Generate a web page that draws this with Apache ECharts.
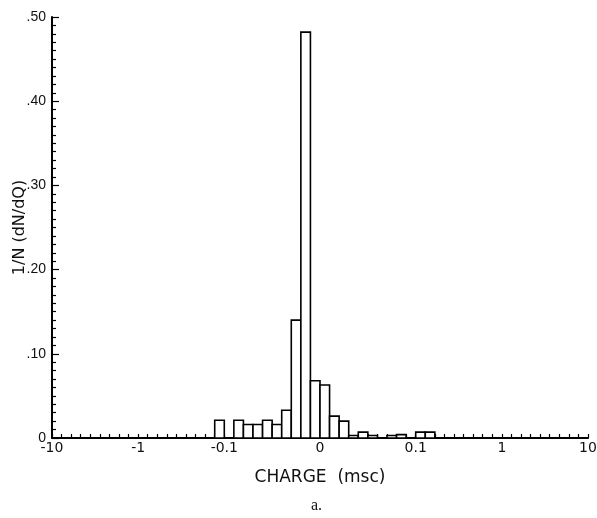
<!DOCTYPE html>
<html><head><meta charset="utf-8">
<script src="https://cdn.jsdelivr.net/npm/echarts@6/dist/echarts.min.js"></script>
<style>html,body{margin:0;padding:0;background:#fff}#c{width:597px;height:518px}</style>
</head><body><div id="c"></div>
<script>
// Histogram bins (charge, msc) and normalized frequency 1/N dN/dQ
const binLo = [-0.2, -0.1, -0.09, -0.08, -0.07, -0.06, -0.05, -0.04, -0.03, -0.02, -0.01, 0.0, 0.01, 0.02, 0.03, 0.04, 0.05, 0.06, 0.07, 0.08, 0.09, 0.1, 0.2];
const binHi = [-0.1, -0.09, -0.08, -0.07, -0.06, -0.05, -0.04, -0.03, -0.02, -0.01, 0.0, 0.01, 0.02, 0.03, 0.04, 0.05, 0.06, 0.07, 0.08, 0.09, 0.1, 0.2, 0.3];
const freq  = [0.021, 0, 0.021, 0.016, 0.016, 0.021, 0.016, 0.033, 0.140, 0.482, 0.068, 0.063, 0.026, 0.020, 0.003, 0.007, 0.003, 0, 0.003, 0.004, 0, 0.007, 0.007];
const xTickValues = [-10, -1, -0.1, 0, 0.1, 1, 10];
const xTickLabels = ['-10', '-1', '-0.1', '0', '0.1', '1', '10'];
const yTickLabels = ['0', '.10', '.20', '.30', '.40', '.50'];

// piecewise axis transform: linear |q|<=0.1 (bins of 0.01), then decades split into 9 equal bins
function toU(q) {
  const a = Math.abs(q), s = q < 0 ? -1 : 1;
  let u;
  if (a <= 0.1) u = a / 0.01;
  else if (a <= 1) u = 10 + (a - 0.1) / 0.1;
  else u = 19 + (a - 1) / 1;
  return s * u;
}
const xTickU = xTickValues.map(toU);
const data = binLo.map((q, i) => [toU(q), toU(binHi[i]), freq[i]]);

const FONT = 'DejaVu Sans';
const chart = echarts.init(document.getElementById('c'), null, {renderer: 'canvas'});
chart.setOption({
  animation: false,
  backgroundColor: '#fff',
  grid: {left: 52, right: 9, top: 17, bottom: 80, containLabel: false, outerBoundsMode: 'none'},
  xAxis: {
    type: 'value', min: -28, max: 28, interval: 1,
    name: 'CHARGE  (msc)', nameLocation: 'middle', nameGap: 31, nameMoveOverlap: false,
    nameTextStyle: {fontFamily: FONT, fontSize: 17, color: '#111'},
    axisLine: {onZero: false, lineStyle: {color: '#000', width: 2}},
    axisTick: {inside: true, length: 4, lineStyle: {color: '#000', width: 1.2}},
    splitLine: {show: false},
    axisLabel: {
      margin: 3, fontFamily: FONT, fontSize: 14, color: '#111',
      formatter: function (v) {
        for (let i = 0; i < xTickU.length; i++) if (Math.abs(xTickU[i] - v) < 1e-6) return xTickLabels[i];
        return '';
      }
    }
  },
  yAxis: {
    type: 'value', min: 0, max: 0.5, interval: 0.1,
    name: '1/N (dN/dQ)', nameLocation: 'middle', nameGap: 24, nameMoveOverlap: false,
    nameTextStyle: {fontFamily: FONT, fontSize: 16, color: '#111'},
    axisLine: {onZero: false, lineStyle: {color: '#000', width: 2}},
    axisTick: {inside: true, length: 7, lineStyle: {color: '#000', width: 1.2}},
    minorTick: {show: true, splitNumber: 10, length: 4, lineStyle: {color: '#000', width: 1.2}},
    splitLine: {show: false},
    minorSplitLine: {show: false},
    axisLabel: {
      margin: 6, fontFamily: 'Liberation Sans', fontSize: 14, color: '#111',
      formatter: function (v) { return yTickLabels[Math.round(v * 10)]; }
    }
  },
  series: [{
    type: 'custom',
    data: data,
    encode: {x: [0, 1], y: 2},
    renderItem: function (params, api) {
      const lo = api.value(0), hi = api.value(1), v = api.value(2);
      if (!(v > 0)) return null;
      const p0 = api.coord([lo, v]);
      const p1 = api.coord([hi, 0]);
      return {
        type: 'rect',
        shape: {x: p0[0], y: p0[1], width: p1[0] - p0[0], height: p1[1] - p0[1]},
        style: {fill: '#fff', stroke: '#000', lineWidth: 1.6}
      };
    }
  }],
  graphic: [{
    type: 'text', left: 311, top: 498,
    style: {text: 'a.', font: '16px "Liberation Serif"', fill: '#111'}
  }]
});
</script>
</body></html>
